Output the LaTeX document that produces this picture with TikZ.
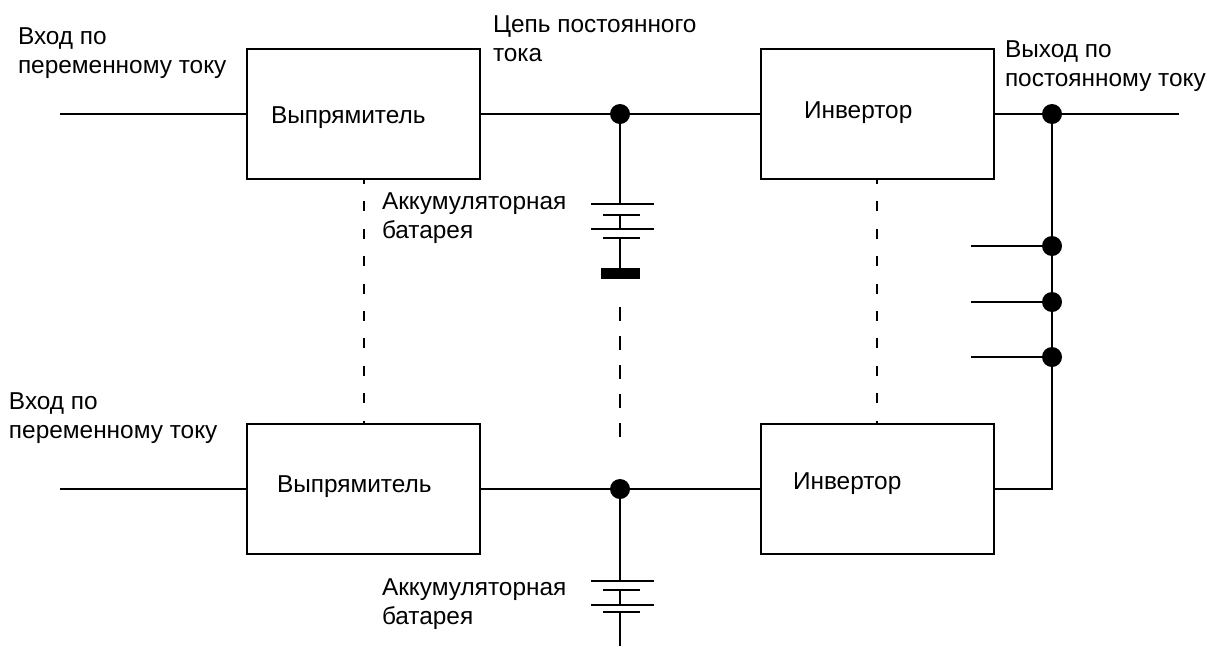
\documentclass[tikz,border=0pt]{standalone}
\usepackage{fontspec}
\setmainfont{Liberation Sans}
\usetikzlibrary{positioning}

\begin{document}
\begin{tikzpicture}[x=1pt,y=-1pt,line width=2pt,line cap=butt,
                    inner sep=0pt,outer sep=0pt]
  \tikzset{
    box/.style={draw=black,fill=none,minimum width=233pt,minimum height=130pt},
    dot/.style={circle,fill=black,minimum size=20pt},
    txt/.style={anchor=base west,align=left,text=black,
                font=\fontsize{24.4pt}{29pt}\selectfont},
    plate/.style={line width=1.8pt},
    tie/.style={line width=1.6pt,dash pattern=on 10pt off 17.4pt,dash phase=5pt},
    midtie/.style={line width=1.8pt,dash pattern=on 14pt off 15pt}
  }
  \useasboundingbox (0,0) rectangle (1207,646);

  \node[box] (R1) at (363.5,114) {};
  \node[box] (I1) [right=281pt of R1] {};
  \node[box] (R2) at (363.5,489) {};
  \node[box] (I2) [right=281pt of R2] {};

  \node[dot] (D1) at (620,114) {};
  \node[dot] (D2) at (620,489) {};
  \node[dot] (O1) at (1052,114) {};
  \node[dot] (O2) at (1052,246) {};
  \node[dot] (O3) at (1052,302) {};
  \node[dot] (O4) at (1052,357) {};

  \coordinate (in1) at (60,114);
  \coordinate (in2) at (60,489);
  \coordinate (out) at (1179,114);
  \coordinate (s2) at (971,246);
  \coordinate (s3) at (971,302);
  \coordinate (s4) at (971,357);
  \coordinate (corner) at (1052,489);

  % main lines
  \draw (in1) -- (R1) (R1) -- (D1) -- (I1) (I1) -- (O1) -- (out);
  \draw (in2) -- (R2) (R2) -- (D2) -- (I2);
  \draw (I2) -- (corner) -- (O4) -- (O3) -- (O2) -- (O1);
  \draw (s2) -- (O2) (s3) -- (O3) (s4) -- (O4);

  % top battery
  \coordinate (b1) at (620,204);
  \coordinate (b2) at (620,215);
  \coordinate (b3) at (620,229);
  \coordinate (b4) at (620,238);
  \coordinate (b5) at (620,268);
  \draw (D1) -- (b1) (b2) -- (b3) (b4) -- (b5);
  \draw[plate] ([xshift=-29pt]b1) -- ([xshift=34pt]b1);
  \draw[plate] ([xshift=-17pt]b2) -- ([xshift=20pt]b2);
  \draw[plate] ([xshift=-29pt]b3) -- ([xshift=34pt]b3);
  \draw[plate] ([xshift=-17pt]b4) -- ([xshift=20pt]b4);
  \node[fill=black,minimum width=39pt,minimum height=11pt,anchor=north] (P1) at (620.5,268) {};

  % bottom battery
  \coordinate (c1) at (620,581);
  \coordinate (c2) at (620,590);
  \coordinate (c3) at (620,605);
  \coordinate (c4) at (620,612);
  \coordinate (c5) at (620,646);
  \draw (D2) -- (c1) (c2) -- (c3) (c4) -- (c5);
  \draw[plate] ([xshift=-29pt]c1) -- ([xshift=34pt]c1);
  \draw[plate] ([xshift=-17pt]c2) -- ([xshift=20pt]c2);
  \draw[plate] ([xshift=-29pt]c3) -- ([xshift=34pt]c3);
  \draw[plate] ([xshift=-17pt]c4) -- ([xshift=20pt]c4);

  % ties between the two lines
  \draw[tie] (R1.south -| 364,0) -- (R2.north -| 364,0);
  \draw[tie] (I1.south -| 877,0) -- (I2.north -| 877,0);
  \coordinate (t1) at (620,307);
  \coordinate (t2) at (620,440);
  \draw[midtie] (t1) -- (t2);

  % labels
  \node[txt] (L1) at (18,73) {Вход по\\переменному току};
  \node[txt] (L2) at (9,438) {Вход по\\переменному току};
  \node[txt] (L3) at (493,61) {Цепь постоянного\\тока};
  \node[txt] (L4) at (1005,86) {Выход по\\постоянному току};
  \node[txt] (L5) at (382,238) {Аккумуляторная\\батарея};
  \node[txt] (L6) at (382,624) {Аккумуляторная\\батарея};
  \node[txt] (T1) at (271,123) {Выпрямитель};
  \node[txt] (T2) at (277,492) {Выпрямитель};
  \node[txt] (T3) at (804,118) {Инвертор};
  \node[txt] (T4) at (793,489) {Инвертор};
\end{tikzpicture}
\end{document}
